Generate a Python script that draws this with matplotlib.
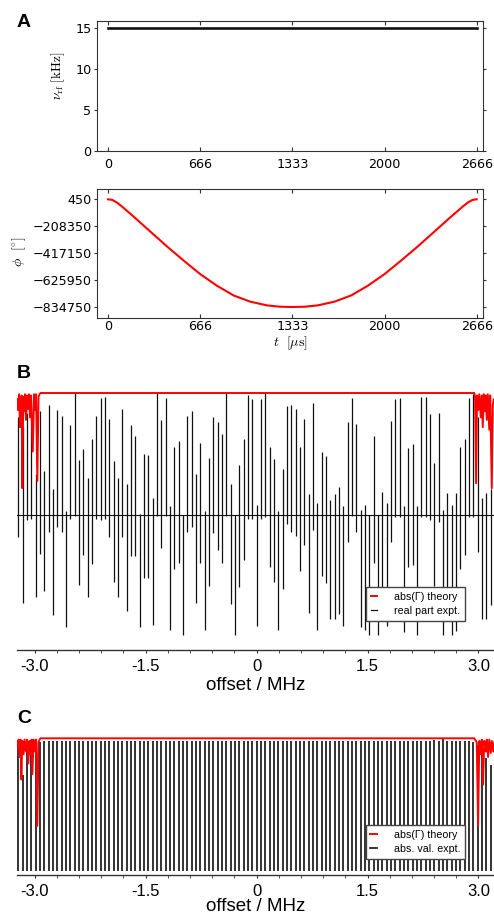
import matplotlib
matplotlib.use("Agg")
from matplotlib import pyplot as plt
from matplotlib.ticker import MultipleLocator
import numpy as np

# ---- panel A: pulse amplitude and phase ----
t_amp = [0, 2666]
nu_rf = [15, 15]

t_phase = [0, 30, 65, 100, 185, 306, 426, 547, 667, 788, 908, 1028, 1149, 1240, 1333,
           1426, 1517, 1638, 1758, 1878, 1999, 2119, 2240, 2360, 2481, 2566, 2601, 2636, 2666]
phi = [450, -4000, -25400, -55000, -134000, -250000, -365000, -475000, -580000,
       -670000, -745000, -793000, -822000, -832000, -834750,
       -832000, -822000, -793000, -745000, -670000, -580000, -475000, -365000,
       -250000, -134000, -55000, -25400, -4000, 450]

t_ticks = [0, 666, 1333, 2000, 2666]
phi_ticks = [450, -208350, -417150, -625950, -834750]

# ---- panels B and C: excitation comb ----
comb_spacing = 0.0586   # MHz
comb_k = np.arange(-55, 56)

real_hi = [0.80, 0.72, 0.84, 0.81, 0.34, 0.85, 0.36, 0.90, 0.21, 0.86,
           0.81, 0.03, 0.74, 1.00, 0.45, 0.54, 0.30, 0.62, 0.81, 0.96,
           0.97, 0.79, 0.44, 0.30, 0.87, 0.25, 0.74, 0.65, 0.01, 0.50,
           0.49, 0.14, 1.00, 0.78, 0.96, 0.07, 0.56, 0.61, 0.00, 0.81,
           0.85, 0.34, 0.59, 0.03, 0.47, 0.80, 0.76, 0.66, 1.00, 0.25,
           0.00, 0.41, 0.62, 0.98, 0.95, 0.08, 0.95, 1.00, 0.56, 0.46,
           0.03, 0.38, 0.89, 0.90, 0.87, 0.56, 0.79, 0.17, 0.92, 0.10,
           0.52, 0.48, 0.12, 0.17, 0.23, 0.07, 0.76, 0.96, 0.75, 0.04,
           0.08, 0.00, 0.65, 0.00, 0.19, 0.10, 0.77, 0.95, 0.96, 0.07,
           0.55, 0.58, 0.07, 0.97, 0.97, 0.83, 0.43, 0.84, 0.04, 0.18,
           0.08, 0.18, 0.56, 0.62, 0.96, 0.99, 0.80, 0.14, 0.18, 0.21, 0.60]
real_lo = [-0.18, -0.72, -0.04, -0.03, -0.67, -0.32, -0.62, -0.14, -0.82, -0.10,
           -0.14, -0.92, -0.03, -0.01, -0.57, -0.33, -0.67, -0.40, -0.03, -0.04,
           -0.03, -0.18, -0.55, -0.67, -0.18, -0.79, -0.34, -0.34, -0.92, -0.52,
           -0.52, -0.90, -0.01, -0.27, -0.01, -0.94, -0.44, -0.39, -0.98, -0.14,
           -0.10, -0.72, -0.39, -0.94, -0.58, -0.15, -0.29, -0.39, -0.01, -0.73,
           -0.98, -0.59, -0.37, -0.03, -0.03, -0.91, -0.03, -0.02, -0.43, -0.55,
           -0.94, -0.61, -0.07, -0.14, -0.17, -0.46, -0.25, -0.80, -0.12, -0.94,
           -0.50, -0.56, -0.85, -0.85, -0.81, -0.91, -0.22, -0.01, -0.14, -0.92,
           -0.94, -0.98, -0.39, -0.98, -0.83, -0.91, -0.22, -0.02, -0.02, -0.96,
           -0.43, -0.41, -0.98, -0.02, -0.02, -0.04, -0.58, -0.06, -0.98, -0.83,
           -0.98, -0.95, -0.44, -0.33, -0.02, -0.02, -0.30, -0.85, -0.85, -0.74, -0.40]

abs_val = [0.93, 0.72, 0.95, 0.90, 0.92, 0.97, 0.98, 0.98, 0.98, 0.98,
           0.98, 0.98, 0.98, 0.98, 0.98, 0.98, 0.98, 0.98, 0.98, 0.98,
           0.98, 0.98, 0.98, 0.98, 0.98, 0.98, 0.98, 0.98, 0.98, 0.98,
           0.98, 0.98, 0.98, 0.98, 0.98, 0.98, 0.98, 0.98, 0.98, 0.98,
           0.98, 0.98, 0.98, 0.98, 0.98, 0.98, 0.98, 0.98, 0.98, 0.98,
           0.98, 0.98, 0.98, 0.98, 0.98, 0.98, 0.98, 0.98, 0.98, 0.98,
           0.98, 0.98, 0.98, 0.98, 0.98, 0.98, 0.98, 0.98, 0.98, 0.98,
           0.98, 0.98, 0.98, 0.98, 0.98, 0.98, 0.98, 0.98, 0.98, 0.98,
           0.98, 0.98, 0.98, 0.98, 0.98, 0.98, 0.98, 0.98, 0.98, 0.98,
           0.98, 0.98, 0.98, 0.98, 0.98, 0.98, 0.99, 0.98, 1.00, 0.98,
           0.98, 0.98, 0.98, 0.98, 0.98, 0.97, 0.95, 0.92, 0.85, 0.80, 0.65]

theoryB_x = [-3.239, -3.226, -3.212, -3.199, -3.178, -3.168, -3.155, -3.145, -3.131,
             -3.118, -3.104, -3.091, -3.077, -3.064, -3.050, -3.027, -3.009, -2.996,
             -2.982, -2.965, -2.949, -2.935, -2.922,
             2.943, 2.954, 2.968, 2.981, 2.997, 3.011, 3.031, 3.045, 3.058, 3.072,
             3.085, 3.099, 3.112, 3.126, 3.146, 3.159, 3.180, 3.193, 3.207, 3.24]
theoryB_y = [0.95, 0.86, 0.99, 0.72, 0.98, 0.22, 0.97, 0.85, 0.99,
             0.78, 0.98, 0.87, 0.99, 0.80, 0.98, 0.52, 0.99, 0.86,
             0.99, 0.28, 0.97, 0.99, 1.00,
             1.00, 0.97, 0.26, 0.98, 0.86, 0.99, 0.80, 0.98, 0.72, 0.99,
             0.85, 0.98, 0.78, 0.99, 0.70, 0.98, 0.22, 0.90, 0.95, 0.90]

theoryC_x = [-3.235, -3.219, -3.205, -3.192, -3.181, -3.168, -3.151, -3.138, -3.118,
             -3.104, -3.086, -3.073, -3.057, -3.043, -3.032, -3.016, -2.996, -2.982,
             -2.965, -2.949, -2.935, -2.922,
             2.943, 2.977, 2.995, 3.011, 3.031, 3.045, 3.062, 3.078, 3.099, 3.112,
             3.130, 3.146, 3.166, 3.180, 3.200, 3.214]
theoryC_y = [0.93, 0.99, 0.86, 0.99, 0.69, 0.98, 0.88, 0.99, 0.90,
             0.99, 0.81, 0.98, 0.88, 0.99, 0.73, 0.99, 0.90, 0.99,
             0.34, 0.97, 0.99, 1.00,
             1.00, 0.97, 0.34, 0.98, 0.88, 0.99, 0.65, 0.98, 0.90, 0.99,
             0.86, 0.99, 0.89, 0.98, 0.90, 0.97]

offset_ticks = [-3.0, -1.5, 0, 1.5, 3.0]
offset_labels = ['-3.0', '-1.5', '0', '1.5', '3.0']

plt.rcParams['mathtext.fontset'] = 'cm'
fig = plt.figure(figsize=(4.94, 9.19), dpi=100)

frame_col = '#333333'

# ---- A, top: amplitude ----
ax1 = fig.add_axes([0.1964, 0.8357, 0.7814, 0.1415])
ax1.plot(t_amp, nu_rf, color='#111111', lw=1.9)
ax1.set_xlim(-80, 2712)
ax1.set_ylim(0, 15.85)
ax1.set_xticks(t_ticks)
ax1.set_yticks([0, 5, 10, 15])
ax1.tick_params(axis='x', direction='in', top=True, labelsize=9.2, length=3, pad=5)
ax1.tick_params(axis='y', direction='out', labelsize=9.2, length=2, pad=2)
ax1.set_ylabel(r'$\nu_{\rm rf}\ [\rm kHz]$', fontsize=9.5)
ax1.yaxis.set_label_coords(-0.078, 0.58)

# ---- A, bottom: phase ----
ax2 = fig.add_axes([0.1964, 0.6543, 0.7814, 0.1400])
ax2.plot(t_phase, phi, color='red', lw=1.5)
ax2.set_xlim(-80, 2712)
ax2.set_ylim(-917500, 80100)
ax2.set_xticks(t_ticks)
ax2.set_yticks(phi_ticks)
ax2.tick_params(axis='x', direction='in', top=True, labelsize=9.2, length=3, pad=2)
ax2.tick_params(axis='y', direction='out', labelsize=9.2, length=2, pad=2)
ax2.set_ylabel(r'$\phi\ \ [^{\circ}]$', fontsize=10)
ax2.yaxis.set_label_coords(-0.18, 0.51)
ax2.set_xlabel(r'$t\ \ [\mu{\rm s}]$', fontsize=10, labelpad=1)

for ax in (ax1, ax2):
    for s in ax.spines.values():
        s.set_color(frame_col)
        s.set_linewidth(0.8)
    ax.tick_params(which='both', color=frame_col)
    ax.tick_params(axis='y', which='both', right=True)

# ---- B: real part ----
comb_x = comb_k * comb_spacing
axB = fig.add_axes([0.0344, 0.2923, 0.9656, 0.2827])
axB.axhline(0, color='#111111', lw=0.8)
axB.vlines(comb_x, real_lo, real_hi, color='#111111', lw=0.9)
lB1, = axB.plot(theoryB_x, theoryB_y, color='red', lw=1.4)
lB2, = axB.plot([], [], color='#111111', lw=0.9)
axB.set_ylim(-1.11, 1.02)
axB.legend([lB1, lB2], ['abs(\u0393) theory', 'real part expt.'],
           loc='lower right', bbox_to_anchor=(0.951, 0.094),
           fancybox=False, framealpha=1, edgecolor='#444444',
           handlelength=0.6, handletextpad=1.6, borderpad=0.45, labelspacing=0.35,
           prop={'family': 'Liberation Sans', 'size': 7.7})

# ---- C: absolute value ----
axC = fig.add_axes([0.0344, 0.0479, 0.9656, 0.1516])
axC.vlines(comb_x, 0, abs_val, color='#111111', lw=1.2)
lC1, = axC.plot(theoryC_x, theoryC_y, color='red', lw=1.4)
lC2, = axC.plot([], [], color='#111111', lw=1.2)
axC.set_ylim(-0.03, 1.02)
axC.legend([lC1, lC2], ['abs(\u0393) theory', 'abs. val. expt.'],
           loc='lower right', bbox_to_anchor=(0.951, 0.079),
           fancybox=False, framealpha=1, edgecolor='#444444',
           handlelength=0.6, handletextpad=1.6, borderpad=0.45, labelspacing=0.35,
           prop={'family': 'Liberation Sans', 'size': 7.7})

for ax, pad in ((axB, 2), (axC, -1)):
    ax.set_xlim(-3.24, 3.21)
    for side in ('left', 'right', 'top'):
        ax.spines[side].set_visible(False)
    ax.spines['bottom'].set_color(frame_col)
    ax.spines['bottom'].set_linewidth(1.0)
    ax.set_yticks([])
    ax.set_xticks(offset_ticks)
    ax.set_xticklabels(offset_labels, fontfamily='Liberation Sans', fontsize=12)
    ax.xaxis.set_minor_locator(MultipleLocator(0.3))
    ax.tick_params(axis='x', which='both', direction='out', length=2.5,
                   color=frame_col, pad=4)
    ax.set_xlabel('offset / MHz', fontfamily='Liberation Sans', fontsize=13.5,
                  labelpad=pad)

# panel letters
for letter, y in (('A', 0.9755), ('B', 0.594), ('C', 0.218)):
    fig.text(0.034, y, letter, fontsize=14, fontweight='bold',
             fontfamily='Liberation Sans', va='center', ha='left')

fig.savefig('out.png', dpi=100)
